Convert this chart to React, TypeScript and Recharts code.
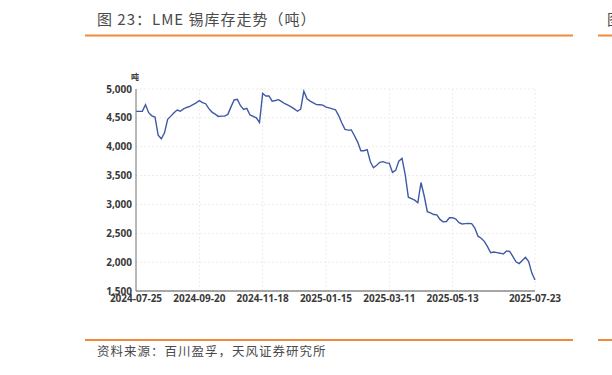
import React from 'react';
import { LineChart, Line, XAxis, YAxis, CartesianGrid } from 'recharts';

// LME tin inventory (tonnes), one value every 2 trading days
const inventory: number[] = [
  4612, 4612, 4615, 4728, 4590, 4535, 4515, 4200, 4137, 4240,
  4475, 4530, 4590, 4635, 4615, 4655, 4680, 4700, 4730, 4760,
  4800, 4765, 4745, 4660, 4600, 4565, 4525, 4530, 4530, 4560,
  4690, 4810, 4820, 4710, 4645, 4665, 4550, 4525, 4500, 4420,
  4925, 4880, 4880, 4790, 4800, 4815, 4780, 4745, 4720, 4690,
  4655, 4615, 4650, 4960, 4830, 4790, 4760, 4730, 4728, 4720,
  4685, 4672, 4655, 4640, 4540, 4410, 4300, 4288, 4290, 4190,
  4080, 3930, 3930, 3950, 3740, 3635, 3680, 3730, 3742, 3720,
  3713, 3555, 3590, 3750, 3800, 3520, 3125, 3100, 3075, 3030,
  3380, 3150, 2873, 2855, 2825, 2820, 2740, 2700, 2705, 2770,
  2770, 2745, 2685, 2662, 2668, 2670, 2668, 2590, 2450, 2415,
  2360, 2270, 2162, 2175, 2165, 2155, 2140, 2195, 2185, 2100,
  2005, 1975, 2030, 2085, 2010, 1810, 1690,
];

// trading-day index of each labelled date
const tickIndex: number[] = [0, 40, 80, 120, 160, 200, 252];
const tickLabels: string[] = [
  '2024-07-25', '2024-09-20', '2024-11-18', '2025-01-15',
  '2025-03-11', '2025-05-13', '2025-07-23',
];
const yTicks: number[] = [1500, 2000, 2500, 3000, 3500, 4000, 4500, 5000];

const data = inventory.map((v, k) => ({ i: k * 2, v }));

const fmtY = (v: number) => String(v).replace(/\B(?=(\d{3})+(?!\d))/g, ',');
const fmtX = (v: number) => {
  const k = tickIndex.indexOf(v);
  return k >= 0 ? tickLabels[k] : '';
};

const axisFont = {
  fontSize: 10,
  fontWeight: 700,
  fill: '#3a3a3a',
  fontFamily: '"Open Sans", "Noto Sans", sans-serif',
};

export default function App() {
  return (
    <div
      style={{
        position: 'absolute',
        left: 0,
        top: 0,
        width: 612,
        height: 375,
        background: '#ffffff',
        overflow: 'hidden',
      }}
    >
      <LineChart
        width={612}
        height={375}
        data={data}
        margin={{ top: 89, right: 77, bottom: 54, left: 96 }}
      >
        <CartesianGrid stroke="#ececec" strokeDasharray="2 2" />
        <XAxis
          type="number"
          dataKey="i"
          domain={[0, 252]}
          ticks={tickIndex}
          tickFormatter={fmtX}
          interval={0}
          tickLine={false}
          tickSize={0}
          tickMargin={4}
          axisLine={{ stroke: '#555555', strokeWidth: 1.2 }}
          tick={axisFont}
          height={30}
        />
        <YAxis
          type="number"
          domain={[1500, 5000]}
          ticks={yTicks}
          tickFormatter={fmtY}
          interval={0}
          tickLine={false}
          tickSize={0}
          tickMargin={4}
          axisLine={{ stroke: '#777777', strokeWidth: 1 }}
          tick={axisFont}
          width={40}
        />
        <Line
          type="linear"
          dataKey="v"
          stroke="#3f5aa5"
          strokeWidth={1.4}
          dot={false}
          isAnimationActive={false}
        />
      </LineChart>
      <svg
        width={612}
        height={375}
        style={{ position: 'absolute', left: 0, top: 0, pointerEvents: 'none' }}
      >
        <text
          x={97}
          y={25}
          fontSize={15}
          letterSpacing={1}
          fill="#4a4a4a"
          fontFamily='"Noto Sans CJK SC", sans-serif'
        >
          图 23：LME 锡库存走势（吨）
        </text>
        <text
          x={607}
          y={25}
          fontSize={15}
          fill="#4a4a4a"
          fontFamily='"Noto Sans CJK SC", sans-serif'
        >
          图
        </text>
        <rect x={85} y={34.5} width={488} height={2} fill="#f08a3a" />
        <rect x={598} y={34.5} width={20} height={2} fill="#f08a3a" />
        <text
          x={135}
          y={80}
          fontSize={8}
          fontWeight={700}
          textAnchor="middle"
          fill="#3a3a3a"
          fontFamily='"Noto Sans CJK SC", sans-serif'
        >
          吨
        </text>
        <rect x={85} y={339} width={488} height={2} fill="#f08a3a" />
        <rect x={598} y={339} width={20} height={2} fill="#f08a3a" />
        <text
          x={97}
          y={356}
          fontSize={12.5}
          letterSpacing={1}
          fill="#4a4a4a"
          fontFamily='"Noto Sans CJK SC", sans-serif'
        >
          资料来源：百川盈孚，天风证券研究所
        </text>
      </svg>
    </div>
  );
}
